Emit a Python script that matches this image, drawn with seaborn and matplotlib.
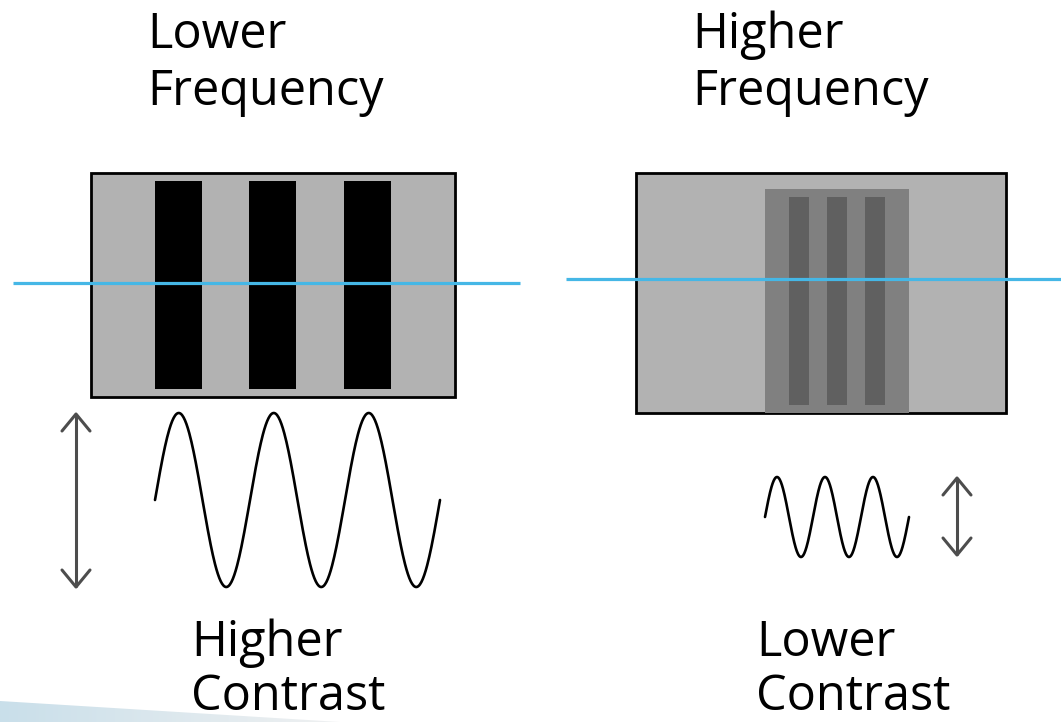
import numpy as np
import pandas as pd
import matplotlib.pyplot as plt
import matplotlib.patches as mpatches
import seaborn as sns

# canvas in pixels (y grows downwards, like the slide)
W, H = 1061, 722

# grating panels: x0, y0, x1, y1
panel_boxes = [(91, 173, 455, 397), (636, 173, 1006, 413)]
panel_color = '#b2b2b2'

# low frequency / high contrast bars
left_bar_x = [155, 249, 344]
left_bar_w = 47
left_bar_y = (181, 389)
left_bar_color = '#000000'

# high frequency / low contrast patch and bars
right_patch = (765, 189, 909, 413)
right_patch_color = '#808080'
right_bar_x = [789, 827, 865]
right_bar_w = 20
right_bar_y = (197, 405)
right_bar_color = '#606060'

# cyan scan lines: y, x_start, x_end
scan_lines = [(283, 13, 520), (279, 566, 1061)]
scan_color = '#45b7e6'

# luminance profiles: x_start, period, cycles, centre y, amplitude
waves = [(155, 95, 3, 500, 87), (765, 48, 3, 517, 40)]

# contrast arrows: x, y_top, y_bottom
arrows = [(76, 414, 587), (957, 478, 555)]
arrow_color = '#4d4d4d'

# labels: text lines, x, baselines
labels = [
    (['Lower', 'Frequency'], 147, [48, 105]),
    (['Higher', 'Frequency'], 692, [48, 105]),
    (['Higher', 'Contrast'], 191, [656, 710]),
    (['Lower', 'Contrast'], 756, [656, 710]),
]

sns.set_theme(style='white')
plt.rcParams['font.family'] = ['Open Sans', 'DejaVu Sans']

fig = plt.figure(figsize=(W / 100, H / 100), dpi=100)
ax = fig.add_axes([0, 0, 1, 1])
ax.set_xlim(0, W)
ax.set_ylim(H, 0)
ax.axis('off')

# faint slide decoration in the lower left corner
swoosh = mpatches.Polygon([(0, 701), (340, 722), (0, 722)], closed=True,
                          facecolor='none', edgecolor='none')
ax.add_patch(swoosh)
grad = np.linspace(0, 1, 256).reshape(1, -1)
img = ax.imshow(grad, extent=(0, 340, 722, 700), cmap=sns.light_palette('#c9dfea', reverse=True, as_cmap=True),
                aspect='auto', zorder=0)
img.set_clip_path(swoosh)

for x0, y0, x1, y1 in panel_boxes:
    ax.add_patch(mpatches.Rectangle((x0, y0), x1 - x0, y1 - y0, facecolor=panel_color,
                                    edgecolor='black', linewidth=2, zorder=1))

for bx in left_bar_x:
    ax.add_patch(mpatches.Rectangle((bx, left_bar_y[0]), left_bar_w, left_bar_y[1] - left_bar_y[0],
                                    facecolor=left_bar_color, edgecolor='none', zorder=2))

px0, py0, px1, py1 = right_patch
ax.add_patch(mpatches.Rectangle((px0, py0), px1 - px0, py1 - py0, facecolor=right_patch_color,
                                edgecolor='none', zorder=2))
for bx in right_bar_x:
    ax.add_patch(mpatches.Rectangle((bx, right_bar_y[0]), right_bar_w, right_bar_y[1] - right_bar_y[0],
                                    facecolor=right_bar_color, edgecolor='none', zorder=3))

for y, xa, xb in scan_lines:
    ax.plot([xa, xb], [y, y], color=scan_color, linewidth=2.3, zorder=4, solid_capstyle='butt')

for i, (x0, period, cycles, cy, amp) in enumerate(waves):
    t = np.linspace(0, cycles, 400)
    df = pd.DataFrame({'x': x0 + t * period, 'y': cy - amp * np.sin(2 * np.pi * t)})
    sns.lineplot(data=df, x='x', y='y', sort=False, color='black', linewidth=1.9, ax=ax, zorder=4)

hw, hl = 14, 17
for x, yt, yb in arrows:
    ax.plot([x, x], [yt, yb], color=arrow_color, linewidth=2.2, solid_capstyle='butt')
    ax.plot([x - hw, x, x + hw], [yt + hl, yt, yt + hl], color=arrow_color, linewidth=2.2)
    ax.plot([x - hw, x, x + hw], [yb - hl, yb, yb - hl], color=arrow_color, linewidth=2.2)

for lines, x, baselines in labels:
    for line, by in zip(lines, baselines):
        ax.text(x, by, line, fontsize=35, color='black', ha='left', va='baseline')

ax.set_xlim(0, W)
ax.set_ylim(H, 0)
fig.savefig('out.png', dpi=100)
